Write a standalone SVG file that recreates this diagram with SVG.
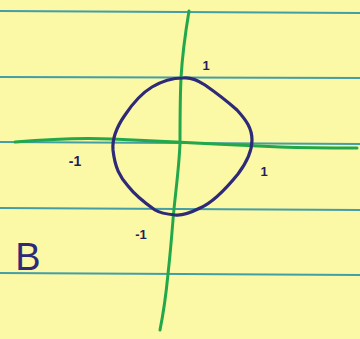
<svg xmlns="http://www.w3.org/2000/svg" width="360" height="339" viewBox="0 0 360 339">
<style>
.rule{stroke:#2f93a6;stroke-width:2;fill:none;opacity:0.9}
.axis{stroke:#22a84a;stroke-width:3;fill:none;stroke-linecap:round;stroke-linejoin:round}
.ink{stroke:#2e2a78;stroke-width:3.2;fill:none;stroke-linecap:round;stroke-linejoin:round}
.lbl{font-family:"Liberation Sans",Arial,sans-serif;fill:#231f5e;font-weight:bold}
</style>
<rect width="360" height="339" fill="#fbf8a6"/>
<g id="rules">
<path class="rule" d="M0 11 L360 13"/>
<path class="rule" d="M0 77 L360 78"/>
<path class="rule" d="M0 142 L360 144"/>
<path class="rule" d="M0 208 L360 210"/>
<path class="rule" d="M0 273 L360 275"/>
</g>
<g id="axes">
<path class="axis" d="M189 11 C185 35 182 60 181 78 C180 100 180 125 180 143 C179 170 175 195 173 220 C171 245 169 265 168 274 C166 295 163 315 160 330"/>
<path class="axis" d="M15 142 C50 139 90 138 112 139 C150 141 180 142 215 144 C240 145 255 146 280 147 C310 148 335 148 357 148"/>
</g>
<g id="circle">
<path class="ink" d="M183 78 C190 77 196 79 205 85 C215 92 228 102 237 110 C246 120 252 128 252 140 C252 152 247 162 238 174 C225 190 212 203 200 208 C190 213 182 216 175 215 C165 214 160 213 155 210 C145 203 135 195 128 186 C120 177 115 168 113 150 C112 138 118 125 125 115 C133 103 142 93 152 87 C162 81 172 78 183 78 Z"/>
</g>
<g id="labels">
<text class="lbl" x="206" y="70" font-size="13" text-anchor="middle">1</text>
<text class="lbl" x="75" y="166" font-size="14" text-anchor="middle">-1</text>
<text class="lbl" x="264" y="176" font-size="13" text-anchor="middle">1</text>
<text class="lbl" x="141" y="239" font-size="13" text-anchor="middle">-1</text>
<text x="28" y="270" font-size="38" text-anchor="middle" font-family="Liberation Sans,Arial,sans-serif" fill="#2e2a78">B</text>
</g>
</svg>
